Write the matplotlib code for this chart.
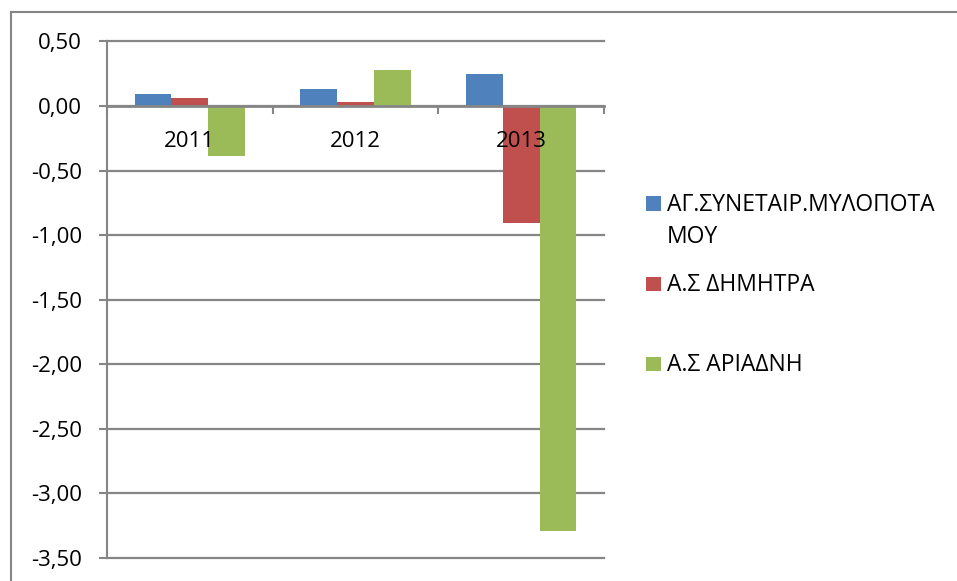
import matplotlib
matplotlib.use("Agg")
import matplotlib.pyplot as plt
from matplotlib.patches import Rectangle
from matplotlib.lines import Line2D
import numpy as np

categories = ["2011", "2012", "2013"]
series_names = ["ΑΓ.ΣΥΝΕΤΑΙΡ.ΜΥΛΟΠΟΤΑ\nΜΟΥ", "Α.Σ ΔΗΜΗΤΡΑ", "Α.Σ ΑΡΙΑΔΝΗ"]
mylopotamou = [0.09, 0.13, 0.25]
dimitra = [0.06, 0.03, -0.91]
ariadni = [-0.39, 0.28, -3.29]
series_values = [mylopotamou, dimitra, ariadni]
colors = ["#4F81BD", "#C0504D", "#9BBB59"]
yticks = [0.5, 0.0, -0.5, -1.0, -1.5, -2.0, -2.5, -3.0, -3.5]

FONT = ["Open Sans", "DejaVu Sans"]
plt.rcParams['font.family'] = FONT

W, H = 957, 581
fig = plt.figure(figsize=(W / 100, H / 100), dpi=100)
ax = fig.add_axes([107 / W, 1 - 557.6 / H, (604 - 107) / W, (557.6 - 41.5) / H])

x = np.arange(len(categories))
bw = 1 / 4.5
gray = "#868686"
for i, (vals, c) in enumerate(zip(series_values, colors)):
    ax.bar(x + (i - 1) * bw, vals, width=bw, color=c, zorder=3, linewidth=0)

ax.set_xlim(-0.5, len(categories) - 0.5)
ax.set_ylim(-3.5, 0.5)
ax.set_yticks(yticks)
ax.set_yticklabels([f"{v:.2f}".replace(".", ",") for v in yticks], fontsize=16)
ax.yaxis.grid(True, color=gray, linewidth=1.6, zorder=0)
ax.tick_params(axis="y", direction="out", length=5.5, width=1.5, color=gray, pad=12.5, labelcolor="black")
for gl in ax.get_ygridlines():
    gl.set_clip_on(False)

for s in ["top", "right"]:
    ax.spines[s].set_visible(False)
ax.spines["left"].set_color(gray)
ax.spines["left"].set_linewidth(1.5)
ax.spines["bottom"].set_position(("data", 0))
ax.spines["bottom"].set_color(gray)
ax.spines["bottom"].set_linewidth(2)
ax.spines["bottom"].set_zorder(4)

ax.set_xticks(x)
ax.set_xticklabels(categories, fontsize=16)
ax.tick_params(axis="x", which="major", length=0, pad=18)
ax.set_xticks(np.arange(-0.5, len(categories), 1.0), minor=True)
ax.tick_params(axis="x", which="minor", direction="out", length=6, width=1.5, color=gray)
ax.xaxis.set_zorder(5)

# chart border (cropped)
fig.add_artist(Line2D([10.5 / W, 10.5 / W], [0, 1 - 12 / H], transform=fig.transFigure, color=gray, linewidth=1.5))
fig.add_artist(Line2D([10.5 / W, 1], [1 - 12 / H, 1 - 12 / H], transform=fig.transFigure, color=gray, linewidth=1.5))

# legend
sq_top = [196, 276.5, 356.5]
base_y = [210.7, 290.7, 371.2]
line_step = 32.3
for name, c, st, by in zip(series_names, colors, sq_top, base_y):
    fig.add_artist(Rectangle((646 / W, 1 - (st + 14.5) / H), 14.5 / W, 14.5 / H,
                             transform=fig.transFigure, facecolor=c, edgecolor="none"))
    for k, line in enumerate(name.split("\n")):
        fig.text(667 / W, 1 - (by + k * line_step) / H, line, fontsize=16.5,
                 va="baseline", ha="left", family=FONT)

fig.savefig("out.png", dpi=100)
